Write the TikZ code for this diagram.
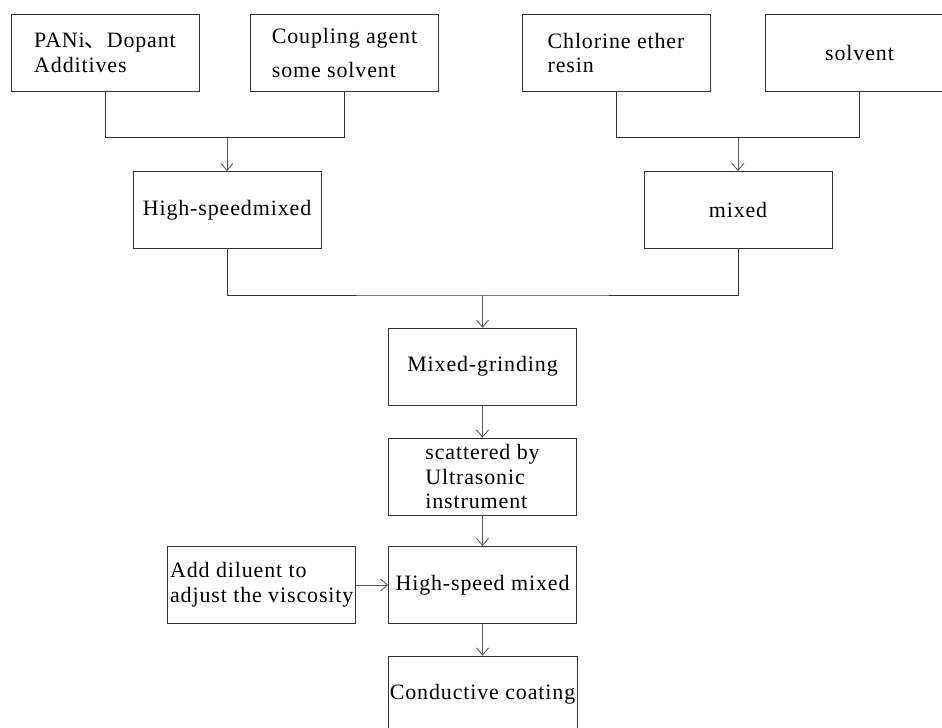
\documentclass[tikz,border=0pt]{standalone}
\usepackage{fontspec}
\setmainfont{Liberation Serif}[LetterSpace=4]
\newfontfamily\cjk{Noto Sans CJK SC}
\usetikzlibrary{arrows.meta}

\begin{document}
\begin{tikzpicture}[
  x=0.02cm, y=-0.02cm,
  font=\fontsize{12.5}{14}\selectfont,
  stagebox/.style={
    draw=black!80,
    line width=0.5pt,
    align=left,
    inner sep=1pt,
    minimum width=3.76cm,
    minimum height=1.54cm
  },
  link/.style={line width=0.5pt, draw=black!80},
  flow/.style={-{Straight Barb[length=1.4mm,width=2.4mm]}, line width=0.5pt, draw=black!65}
]
  \clip (0,0) rectangle (942,727);

  \node[stagebox] (pani) at (105,53) {PANi{\cjk 、}Dopant\\Additives};
  \node[stagebox] (coupling) at (344.5,53) {Coupling agent\\[5pt]some solvent};
  \node[stagebox] (chlorine) at (616,53) {Chlorine ether\\resin};
  \node[stagebox] (solvent) at (859.5,53) {solvent};
  \node[stagebox] (hsmix) at (227,210) {High-speedmixed};
  \node[stagebox] (mixed) at (738,210) {mixed};
  \node[stagebox] (grinding) at (482.5,366.7) {Mixed-grinding};
  \node[stagebox] (scatter) at (482.5,476.5) {scattered by\\Ultrasonic\\instrument};
  \node[stagebox] (diluent) at (261.7,585) {Add diluent to\\adjust the viscosity};
  \node[stagebox] (hsmix2) at (482.5,585) {High-speed mixed};
  \node[stagebox] (coating) at (482.5,694.5) {Conductive coating};

  \coordinate (jleft) at (227,137.7);
  \coordinate (jright) at (738,137.7);
  \coordinate (jmid) at (482.5,295);

  \draw[link] (pani.south) |- (jleft) -| (coupling.south);
  \draw[flow] (jleft) -- (hsmix);
  \draw[link] (chlorine.south) |- (jright) -| (solvent.south);
  \draw[flow] (jright) -- (mixed);
  \draw[link] (hsmix.south) |- (jmid) -| (mixed.south);
  \draw[flow] (jmid) -- (grinding);
  \draw[flow] (grinding) -- (scatter);
  \draw[flow] (scatter) -- (hsmix2);
  \draw[flow] (diluent) -- (hsmix2);
  \draw[flow] (hsmix2) -- (coating);
\end{tikzpicture}
\end{document}
